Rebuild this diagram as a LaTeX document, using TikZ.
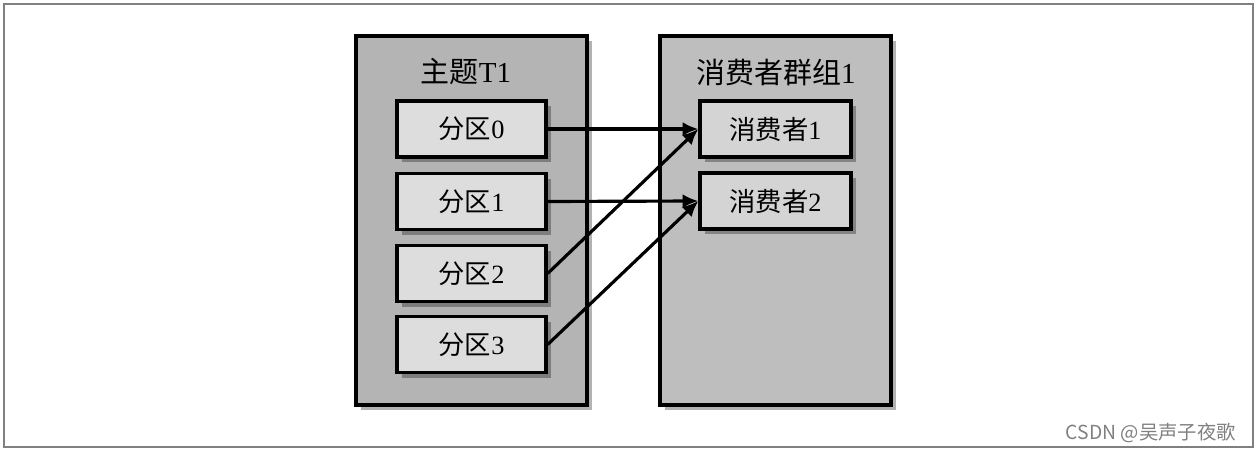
\documentclass[tikz,border=0pt]{standalone}
\usepackage{fontspec}
\setmainfont{Liberation Serif}
\newfontfamily\cjk{Noto Sans CJK SC}
\usepackage{xcolor}
\usepackage{tikz}
\usetikzlibrary{arrows.meta,positioning,shadows}

\definecolor{grpgray}{RGB}{180,180,180}
\definecolor{grpgrayb}{RGB}{190,190,190}
\definecolor{itemgray}{RGB}{221,221,221}
\definecolor{consgray}{RGB}{212,212,212}

\begin{document}
\begin{tikzpicture}[
      x=0.02cm,y=-0.02cm,
      box/.style={draw,line width=1.9pt,align=center,inner sep=0pt,
                  drop shadow={shadow xshift=3pt,shadow yshift=-3pt,fill=black,opacity=0.3}},
      grp/.style={box,minimum width=4.62cm,minimum height=7.38cm},
      part/.style={box,fill=itemgray,minimum width=2.98cm,minimum height=1.12cm},
      cons/.style={box,fill=consgray,minimum width=3.02cm,minimum height=1.12cm},
      lnk/.style={-{Latex[length=9pt,width=8pt]},line width=1.8pt},
      every node/.style={font=\fontsize{15}{18}\selectfont}
]
\useasboundingbox (0,0) rectangle (1258,452);
\draw[gray,line width=0.6pt] (4,4) rectangle (1253,447);

\node[grp,fill=grpgray] (topic) at (471.5,220.5) {};
\node[grp,fill=grpgrayb] (group) at (775.5,220.5) {};
\node[font=\fontsize{16.5}{19}\selectfont] (topictitle) at (466,72) {{\cjk 主题}T1};
\node[font=\fontsize{16.5}{19}\selectfont] (grouptitle) at (776,72) {{\cjk 消费者群组}1};

\node[part] (p0) at (471.5,129) {{\cjk 分区}0};
\node[part] (p1) at (471.5,201.5) {{\cjk 分区}1};
\node[part] (p2) at (471.5,273.5) {{\cjk 分区}2};
\node[part] (p3) at (471.5,344.5) {{\cjk 分区}3};

\node[cons] (c1) at (775.5,129) {{\cjk 消费者}1};
\node[cons] (c2) at (775.5,201) {{\cjk 消费者}2};

\foreach \src/\dst in {p0/c1,p1/c2,p2/c1,p3/c2} {
      \draw[lnk] (\src.east) -- (\dst.west);
}

\node[anchor=east,text=gray,font=\cjk\fontsize{11}{13}\selectfont] (mark) at (1242,433) {CSDN @吴声子夜歌};
\end{tikzpicture}
\end{document}
